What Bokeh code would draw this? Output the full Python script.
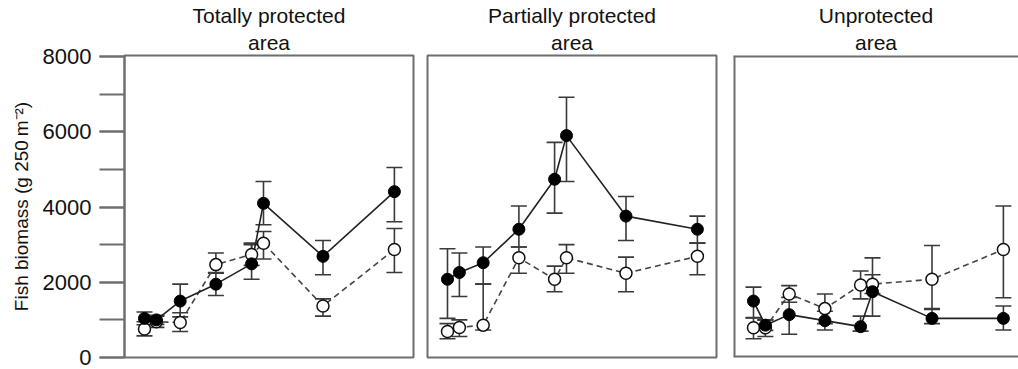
from bokeh.plotting import figure
from bokeh.layouts import row
from bokeh.models import ColumnDataSource, Whisker, TeeHead, SingleIntervalTicker, Span, Title
from bokeh.embed import file_html
from bokeh.resources import INLINE

# sampling times (relative positions along the x axis; the axis is not labelled)
times = [0, 1, 3, 6, 9, 10, 15, 21]

panel_titles = [("Totally protected", "area"), ("Partially protected", "area"), ("Unprotected", "area")]
y_label = "Fish biomass (g 250\u2009m\u207b\u00b2)"
y_ticks_major = 2000

# Totally protected area
tp_filled = [1040, 1000, 1500, 1950, 2490, 4100, 2690, 4410]
tp_filled_hi = [1210, 1120, 1950, 2260, 3040, 4680, 3110, 5050]
tp_filled_lo = [870, 880, 1080, 1650, 2080, 3530, 2200, 3610]
tp_open = [760, 950, 930, 2470, 2740, 3040, 1370, 2870]
tp_open_hi = [950, 1100, 1190, 2780, 3000, 3350, 1560, 3430]
tp_open_lo = [575, 800, 690, 2240, 2450, 2620, 1100, 2260]

# Partially protected area
pp_filled = [2080, 2260, 2520, 3410, 4740, 5900, 3760, 3410]
pp_filled_hi = [2890, 2780, 2940, 4030, 5720, 6920, 4280, 3760]
pp_filled_lo = [1040, 1620, 1950, 2940, 3840, 4680, 3110, 3040]
pp_open = [690, 800, 860, 2650, 2080, 2650, 2240, 2690]
pp_open_hi = [900, 1000, 1950, 2940, 2430, 3000, 2670, 3040]
pp_open_lo = [500, 560, 730, 2240, 1750, 2240, 1750, 2200]

# Unprotected area
up_filled = [1500, 860, 1140, 980, 820, 1750, 1040, 1040]
up_filled_hi = [1870, 1000, 1600, 1230, 1100, 2650, 1300, 1370]
up_filled_lo = [1060, 720, 620, 730, 700, 1100, 900, 730]
up_open = [790, 790, 1690, 1300, 1930, 1950, 2080, 2870]
up_open_hi = [1050, 1000, 1910, 1690, 2300, 2200, 2980, 4030]
up_open_lo = [500, 560, 1470, 900, 1560, 1700, 1280, 1590]

panels = [
    (tp_filled, tp_filled_hi, tp_filled_lo, tp_open, tp_open_hi, tp_open_lo),
    (pp_filled, pp_filled_hi, pp_filled_lo, pp_open, pp_open_hi, pp_open_lo),
    (up_filled, up_filled_hi, up_filled_lo, up_open, up_open_hi, up_open_lo),
]

FONT = "Liberation Sans"
GREY = "#6e6e6e"
X0 = -1.68
PX_PER_UNIT = 11.9
Y_RANGE = (0, 8030)

figs = []
specs = [
    dict(width=420, left=124, right=7, frame=289),
    dict(width=310, left=7, right=14, frame=289),
    dict(width=288, left=3, right=0, frame=285),
]
for i, (spec, data) in enumerate(zip(specs, panels)):
    f, fhi, flo, o, ohi, olo = data
    x_end = X0 + spec["frame"] / PX_PER_UNIT
    p = figure(width=spec["width"], height=369, x_range=(X0, x_end), y_range=Y_RANGE,
               title=None, output_backend="svg", toolbar_location=None,
               min_border_left=spec["left"], min_border_right=spec["right"],
               min_border_top=55, min_border_bottom=12)
    p.xaxis.visible = False
    p.xgrid.visible = False
    p.ygrid.visible = False
    p.background_fill_color = "white"
    p.border_fill_color = "white"
    if i == 2:
        p.outline_line_color = None
        for loc, dim in [(p.x_range.start, "height"), (p.y_range.start, "width"), (p.y_range.end, "width")]:
            p.add_layout(Span(location=loc, dimension=dim, line_color=GREY, line_width=4))
    else:
        p.outline_line_color = GREY
        p.outline_line_width = 2
    line1, line2 = panel_titles[i]
    for txt, so in [(line2, 4), (line1, 0)]:
        t = Title(text=txt, align="center", text_font=FONT, text_font_size="21px",
                  text_font_style="normal", text_color="#111111", standoff=so)
        p.add_layout(t, "above")

    if i == 0:
        ax = p.yaxis[0]
        ax.ticker = SingleIntervalTicker(interval=y_ticks_major, num_minor_ticks=2)
        ax.major_tick_out = 25
        ax.major_tick_in = 0
        ax.minor_tick_out = 25
        ax.minor_tick_in = 0
        ax.major_tick_line_color = GREY
        ax.minor_tick_line_color = GREY
        ax.major_tick_line_width = 2
        ax.minor_tick_line_width = 2
        ax.axis_line_color = GREY
        ax.axis_line_width = 2
        ax.major_label_text_font = FONT
        ax.major_label_text_font_size = "22px"
        ax.major_label_text_color = "#111111"
        ax.major_label_standoff = 8
        ax.axis_label = y_label
        ax.axis_label_text_font = FONT
        ax.axis_label_text_font_size = "19px"
        ax.axis_label_text_font_style = "normal"
        ax.axis_label_text_color = "#111111"
        ax.axis_label_standoff = 8
    else:
        p.yaxis.visible = False

    src_f = ColumnDataSource(dict(x=times, y=f, hi=fhi, lo=flo))
    src_o = ColumnDataSource(dict(x=times, y=o, hi=ohi, lo=olo))
    for src in (src_o, src_f):
        w = Whisker(source=src, base="x", upper="hi", lower="lo", level="underlay",
                    line_color="#3a3a3a", line_width=1.6,
                    upper_head=TeeHead(size=16, line_color="#3a3a3a", line_width=1.6),
                    lower_head=TeeHead(size=16, line_color="#3a3a3a", line_width=1.6))
        p.add_layout(w)
    p.line("x", "y", source=src_o, line_color="#444444", line_width=1.6, line_dash="6 4")
    p.line("x", "y", source=src_f, line_color="#222222", line_width=1.6)
    p.scatter("x", "y", source=src_o, size=12, fill_color="white", line_color="#111111", line_width=1.5)
    p.scatter("x", "y", source=src_f, size=12, fill_color="black", line_color="black", line_width=1)
    figs.append(p)

layout = row(*figs, spacing=0)
open("out.html", "w").write(file_html(layout, INLINE))
